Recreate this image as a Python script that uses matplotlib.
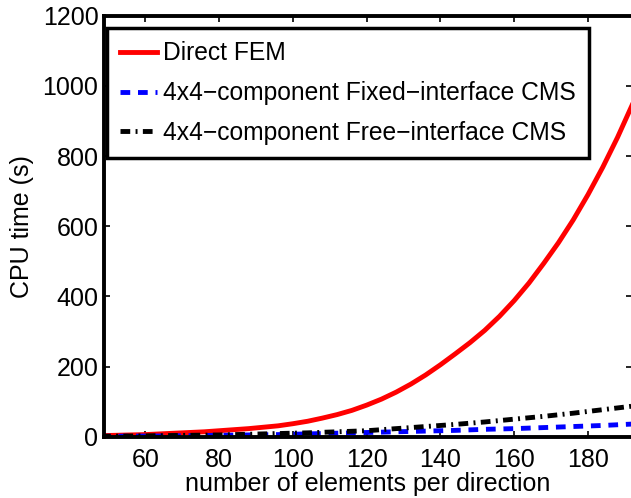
import numpy as np
import matplotlib
matplotlib.use("Agg")
import matplotlib.pyplot as plt

plt.rcParams['font.family'] = ['Liberation Sans', 'DejaVu Sans']

# elements per direction
n_elem = [48, 52, 56, 60, 64, 68, 72, 76, 80, 84, 88, 92, 96, 100,
          104, 108, 112, 116, 120, 124, 128, 132, 136, 140, 144, 148,
          152, 156, 160, 164, 168, 172, 176, 180, 184, 188, 192]

# CPU time (s)
t_direct = [3, 4, 5, 6, 8, 10, 12, 14, 17, 20, 23, 27, 31, 37,
            44, 53, 63, 75, 90, 107, 127, 150, 176, 205, 236, 268,
            303, 343, 388, 438, 494, 553, 618, 690, 768, 853, 946]
t_fixed = [1, 1.2, 1.5, 1.8, 2, 2.5, 3, 3.5, 4, 4.5, 5, 5.5, 6, 7,
           8, 9, 10, 11, 12, 13, 14, 15, 16, 17, 18, 19.5,
           21, 22, 23, 24.5, 26, 27.5, 29, 30.5, 32, 34, 36]
t_free = [1, 1.5, 2, 2.5, 3, 3.5, 4, 4.5, 5, 6, 7, 8, 9, 10,
          11, 12.5, 14, 15.5, 17, 20, 23, 26, 29, 32, 35, 38.5,
          42, 46, 50, 54, 58, 62.5, 67, 72, 77, 82, 87]

labels = ["Direct FEM",
          "4x4\u2212component Fixed\u2212interface CMS",
          "4x4\u2212component Free\u2212interface CMS"]

fs = 18

fig = plt.figure(figsize=(6.31, 4.98), dpi=100)
# axes runs slightly past the right edge of the canvas
ax = fig.add_axes([0.1648, 0.1231, 0.8372, 0.8454])

ax.plot(n_elem, t_direct, color='red', lw=3.5, label=labels[0])
ax.plot(n_elem, t_fixed, color='blue', lw=3.5, linestyle=(0, (2.0, 1.6)),
        label=labels[1])
ax.plot(n_elem, t_free, color='black', lw=3.5,
        linestyle=(0, (2.0, 1.1, 0.4, 1.1)), label=labels[2])

ax.set_xlim(48.8, 192)
ax.set_ylim(0, 1200)
ax.set_xticks([60, 80, 100, 120, 140, 160, 180])
ax.set_yticks([0, 200, 400, 600, 800, 1000, 1200])

for side in ['left', 'bottom', 'top']:
    ax.spines[side].set_linewidth(2.8)
ax.spines['right'].set_visible(False)

ax.tick_params(axis='both', direction='in', length=4, width=1.2,
               top=True, right=True, labelsize=fs)
ax.tick_params(axis='x', pad=8)
ax.tick_params(axis='y', pad=4)

ax.set_xlabel("number of elements per direction", fontsize=fs, labelpad=0)
ax.set_ylabel("CPU time (s)", fontsize=fs, labelpad=6)

leg = ax.legend(loc='upper left', bbox_to_anchor=(0.005, 0.971),
                fontsize=17.7, frameon=True, fancybox=False, framealpha=1,
                edgecolor='black', handlelength=1.5, handletextpad=0.25,
                borderpad=0.55, labelspacing=0.64, borderaxespad=0)
leg.get_frame().set_linewidth(2.5)

fig.savefig("out.png", dpi=100)
